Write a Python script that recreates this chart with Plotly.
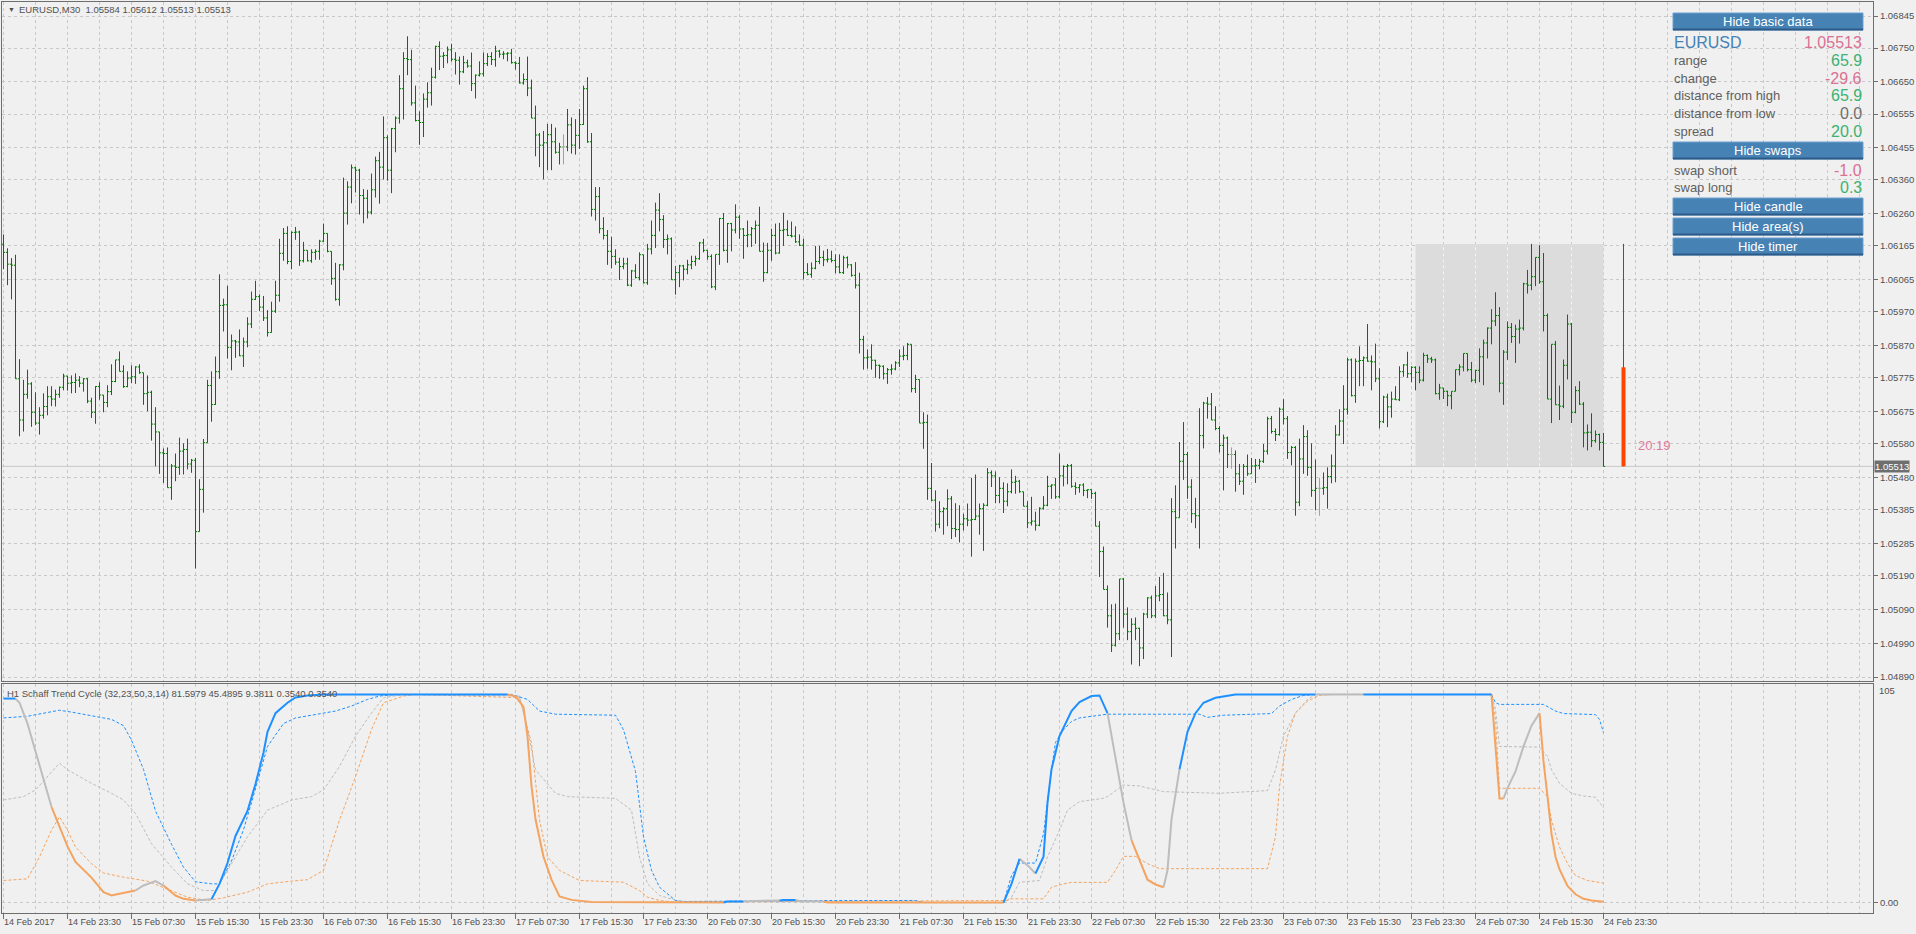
import plotly.graph_objects as go

# ---------------- data ----------------
# EURUSD M30 bars, prices in points (1e-5). open of each bar = previous close
first_open = 106170
bar_close = [
    106146, 106111, 106108, 105772, 105650, 105726, 105757, 105673, 105641, 105664, 105690, 105719, 105712, 105726, 105747, 105780, 105759, 105761, 105768, 105759,
    105772, 105706, 105673, 105749, 105724, 105702, 105734, 105764, 105828, 105794, 105749, 105774, 105778, 105807, 105790, 105728, 105732, 105638, 105615, 105553,
    105551, 105450, 105514, 105510, 105558, 105563, 105520, 105531, 105320, 105445, 105583, 105752, 105696, 105793, 105989, 105991, 105865, 105884, 105881, 105840,
    105881, 105934, 106007, 106015, 105984, 105952, 105909, 105972, 106019, 106143, 106202, 106119, 106205, 106206, 106121, 106152, 106121, 106146, 106149, 106179,
    106202, 106149, 106069, 106007, 106109, 106262, 106339, 106396, 106389, 106314, 106306, 106265, 106331, 106417, 106398, 106485, 106389, 106512, 106543, 106630,
    106719, 106716, 106588, 106536, 106530, 106599, 106618, 106664, 106755, 106726, 106728, 106745, 106717, 106714, 106680, 106707, 106697, 106645, 106670, 106674,
    106704, 106725, 106716, 106741, 106732, 106733, 106735, 106707, 106705, 106647, 106657, 106632, 106543, 106493, 106463, 106470, 106494, 106473, 106442, 106458,
    106458, 106523, 106463, 106492, 106524, 106630, 106473, 106273, 106311, 106216, 106196, 106149, 106134, 106117, 106104, 106112, 106049, 106091, 106071, 106139,
    106056, 106156, 106196, 106271, 106243, 106184, 106186, 106065, 106086, 106106, 106096, 106109, 106119, 106127, 106174, 106152, 106134, 106044, 106140, 106246,
    106152, 106231, 106212, 106250, 106215, 106196, 106198, 106216, 106226, 106149, 106086, 106152, 106196, 106144, 106211, 106213, 106196, 106194, 106177, 106167,
    106086, 106081, 106099, 106119, 106131, 106124, 106126, 106122, 106103, 106086, 106130, 106109, 106078, 106049, 105888, 105834, 105836, 105827, 105812, 105809,
    105787, 105799, 105801, 105819, 105839, 105841, 105874, 105743, 105770, 105641, 105643, 105448, 105413, 105342, 105379, 105388, 105417, 105329, 105326, 105342,
    105358, 105354, 105356, 105366, 105388, 105398, 105494, 105485, 105427, 105448, 105410, 105438, 105466, 105469, 105438, 105395, 105346, 105351, 105339, 105389,
    105398, 105454, 105458, 105423, 105485, 105513, 105515, 105454, 105450, 105458, 105442, 105444, 105433, 105336, 105261, 105149, 105071, 104984, 105018, 105180,
    105076, 105024, 105046, 105034, 104976, 105076, 105124, 105071, 105130, 105134, 105071, 105059, 105379, 105361, 105528, 105548, 105452, 105373, 105367, 105604,
    105700, 105697, 105650, 105625, 105575, 105597, 105548, 105548, 105491, 105469, 105513, 105491, 105514, 105516, 105528, 105558, 105654, 105616, 105607, 105682,
    105654, 105554, 105569, 105407, 105535, 105601, 105510, 105442, 105448, 105448, 105450, 105483, 105514, 105606, 105647, 105682, 105828, 105722, 105824, 105826,
    105834, 105824, 105822, 105772, 105645, 105718, 105689, 105712, 105710, 105793, 105813, 105787, 105806, 105791, 105768, 105841, 105831, 105828, 105728, 105745,
    105735, 105722, 105735, 105799, 105807, 105847, 105799, 105768, 105797, 105837, 105878, 105922, 105943, 105959, 105759, 105851, 105924, 105897, 105919, 105922,
    106053, 106049, 106074, 106131, 106059, 105959, 105712, 105874, 105695, 105691, 105812, 105934, 105673, 105737, 105697, 105612, 105614, 105589, 105607, 105584,
    105513,
]
bar_high = [
    106199, 106158, 106129, 106139, 105830, 105769, 105799, 105762, 105732, 105688, 105729, 105750, 105750, 105740, 105749, 105787, 105780, 105782, 105788, 105780,
    105774, 105774, 105716, 105750, 105762, 105724, 105753, 105815, 105828, 105853, 105812, 105794, 105812, 105809, 105815, 105790, 105782, 105737, 105688, 105615,
    105566, 105569, 105520, 105551, 105598, 105581, 105595, 105535, 105538, 105475, 105594, 105769, 105794, 105838, 106081, 106009, 106047, 105903, 105887, 105918,
    105894, 105954, 106030, 106062, 106022, 106017, 105975, 106000, 106062, 106186, 106218, 106223, 106208, 106221, 106210, 106177, 106152, 106155, 106155, 106183,
    106231, 106202, 106149, 106115, 106111, 106367, 106356, 106406, 106399, 106393, 106333, 106331, 106379, 106429, 106443, 106548, 106492, 106514, 106548, 106670,
    106738, 106785, 106745, 106639, 106563, 106616, 106649, 106692, 106757, 106770, 106738, 106755, 106763, 106738, 106725, 106727, 106716, 106737, 106672, 106711,
    106737, 106735, 106738, 106757, 106745, 106741, 106738, 106748, 106711, 106724, 106675, 106725, 106657, 106580, 106499, 106505, 106526, 106526, 106515, 106470,
    106495, 106570, 106545, 106540, 106570, 106639, 106664, 106499, 106339, 106339, 106250, 106212, 106192, 106155, 106130, 106130, 106130, 106094, 106111, 106146,
    106139, 106171, 106240, 106293, 106321, 106256, 106199, 106190, 106106, 106109, 106109, 106124, 106136, 106136, 106177, 106186, 106152, 106140, 106140, 106248,
    106262, 106233, 106233, 106288, 106256, 106218, 106240, 106221, 106240, 106281, 106175, 106174, 106216, 106231, 106233, 106263, 106241, 106237, 106223, 106199,
    106186, 106114, 106116, 106165, 106165, 106151, 106156, 106151, 106140, 106140, 106136, 106134, 106111, 106117, 106086, 105899, 105859, 105874, 105828, 105814,
    105812, 105804, 105815, 105824, 105859, 105868, 105878, 105874, 105784, 105770, 105673, 105666, 105523, 105442, 105410, 105392, 105445, 105425, 105404, 105398,
    105373, 105403, 105479, 105489, 105403, 105404, 105508, 105501, 105498, 105481, 105466, 105463, 105504, 105485, 105473, 105438, 105410, 105423, 105379, 105392,
    105425, 105485, 105460, 105479, 105551, 105516, 105520, 105520, 105466, 105460, 105463, 105445, 105445, 105438, 105351, 105276, 105161, 105105, 105107, 105180,
    105183, 105096, 105064, 105066, 105036, 105080, 105126, 105131, 105159, 105186, 105198, 105140, 105419, 105457, 105585, 105644, 105556, 105475, 105420, 105685,
    105704, 105718, 105730, 105691, 105632, 105607, 105601, 105569, 105560, 105520, 105520, 105548, 105538, 105535, 105535, 105579, 105660, 105662, 105625, 105687,
    105712, 105662, 105573, 105573, 105595, 105635, 105620, 105581, 105533, 105479, 105495, 105510, 105548, 105635, 105682, 105753, 105834, 105832, 105832, 105868,
    105838, 105934, 105841, 105876, 105803, 105722, 105728, 105734, 105750, 105809, 105815, 105852, 105809, 105809, 105809, 105849, 105844, 105837, 105832, 105757,
    105745, 105737, 105735, 105799, 105815, 105847, 105847, 105822, 105799, 105862, 105888, 105924, 105978, 106028, 105984, 105857, 105942, 105937, 105932, 105947,
    106056, 106094, 106171, 106131, 106167, 106144, 105965, 105874, 105884, 105752, 105829, 105962, 105937, 105750, 105765, 105703, 105637, 105670, 105619, 105610,
    105612,
]
bar_low = [
    106096, 106049, 106007, 105772, 105602, 105616, 105713, 105630, 105635, 105607, 105654, 105664, 105691, 105690, 105716, 105738, 105737, 105729, 105730, 105747,
    105734, 105700, 105656, 105639, 105710, 105673, 105688, 105724, 105762, 105794, 105745, 105747, 105759, 105757, 105787, 105695, 105676, 105589, 105513, 105491,
    105464, 105450, 105414, 105469, 105488, 105489, 105504, 105494, 105211, 105320, 105376, 105583, 105645, 105695, 105772, 105912, 105832, 105797, 105834, 105839,
    105807, 105865, 105922, 106005, 105972, 105943, 105897, 105909, 105967, 106000, 106121, 106111, 106096, 106183, 106106, 106116, 106119, 106115, 106124, 106124,
    106177, 106146, 106050, 106003, 105988, 106093, 106228, 106291, 106323, 106258, 106232, 106246, 106258, 106308, 106290, 106361, 106358, 106321, 106442, 106527,
    106539, 106670, 106580, 106533, 106464, 106487, 106574, 106580, 106660, 106685, 106691, 106705, 106710, 106672, 106642, 106676, 106692, 106623, 106601, 106666,
    106666, 106697, 106700, 106695, 106722, 106717, 106711, 106704, 106686, 106645, 106642, 106608, 106543, 106430, 106398, 106362, 106389, 106389, 106438, 106406,
    106406, 106445, 106438, 106435, 106452, 106523, 106470, 106252, 106240, 106202, 106184, 106109, 106099, 106109, 106064, 106096, 106046, 106044, 106069, 106063,
    106054, 106050, 106140, 106159, 106208, 106159, 106140, 106065, 106021, 106043, 106063, 106081, 106096, 106106, 106124, 106146, 106124, 106040, 106034, 106109,
    106149, 106115, 106149, 106202, 106186, 106127, 106161, 106162, 106171, 106149, 106059, 106084, 106121, 106140, 106142, 106165, 106194, 106190, 106174, 106165,
    106066, 106078, 106071, 106096, 106111, 106105, 106116, 106116, 106084, 106084, 106082, 106099, 106074, 106039, 105847, 105799, 105802, 105799, 105775, 105772,
    105770, 105757, 105784, 105797, 105807, 105827, 105827, 105732, 105730, 105641, 105565, 105414, 105410, 105320, 105330, 105311, 105336, 105298, 105304, 105288,
    105323, 105336, 105246, 105354, 105311, 105263, 105395, 105452, 105404, 105404, 105375, 105395, 105433, 105432, 105435, 105395, 105330, 105338, 105323, 105336,
    105385, 105395, 105417, 105417, 105418, 105454, 105460, 105450, 105429, 105435, 105425, 105419, 105417, 105336, 105186, 105149, 105036, 104964, 104980, 104999,
    105036, 104999, 104927, 104999, 104922, 104943, 105064, 105064, 105064, 105114, 105070, 105046, 104949, 105270, 105361, 105473, 105417, 105346, 105330, 105270,
    105566, 105654, 105650, 105620, 105554, 105442, 105508, 105506, 105438, 105458, 105429, 105485, 105491, 105464, 105504, 105523, 105548, 105610, 105588, 105604,
    105637, 105535, 105516, 105367, 105395, 105491, 105485, 105423, 105383, 105367, 105429, 105388, 105463, 105466, 105604, 105579, 105666, 105720, 105701, 105750,
    105750, 105822, 105738, 105762, 105625, 105641, 105629, 105657, 105710, 105706, 105778, 105775, 105762, 105738, 105759, 105764, 105819, 105819, 105726, 105710,
    105712, 105691, 105682, 105735, 105782, 105794, 105794, 105762, 105759, 105762, 105753, 105832, 105874, 105928, 105732, 105695, 105828, 105878, 105819, 105876,
    105915, 106024, 106034, 106046, 106053, 105912, 105712, 105641, 105695, 105650, 105685, 105770, 105641, 105670, 105695, 105569, 105560, 105570, 105583, 105560,
    105513,
]
day_start_bar = 353  # 24 Feb 00:00

date_labels = [
    "14 Feb 2017", "14 Feb 23:30", "15 Feb 07:30", "15 Feb 15:30", "15 Feb 23:30", "16 Feb 07:30",
    "16 Feb 15:30", "16 Feb 23:30", "17 Feb 07:30", "17 Feb 15:30", "17 Feb 23:30", "20 Feb 07:30",
    "20 Feb 15:30", "20 Feb 23:30", "21 Feb 07:30", "21 Feb 15:30", "21 Feb 23:30", "22 Feb 07:30",
    "22 Feb 15:30", "22 Feb 23:30", "23 Feb 07:30", "23 Feb 15:30", "23 Feb 23:30", "24 Feb 07:30",
    "24 Feb 15:30", "24 Feb 23:30",
]
price_levels = [1.06845, 1.06750, 1.06650, 1.06555, 1.06455, 1.06360, 1.06260, 1.06165, 1.06065, 1.05970,
                1.05870, 1.05775, 1.05675, 1.05580, 1.05480, 1.05385, 1.05285, 1.05190, 1.05090, 1.04990, 1.04890]

# Schaff Trend Cycle (H1), main line: b = rising, o = falling, g = neutral
stc_bar = [0, 3, 4, 6, 8, 10, 12, 14, 16, 18, 22, 25, 27, 29, 33, 35, 38, 40, 43, 45, 48, 51, 52, 54, 56, 58,
           61, 63, 65, 66, 68, 71, 73, 76, 80, 126, 128, 130, 131, 132, 133, 135, 137, 139, 142, 147, 180, 181,
           185, 188, 194, 195, 198, 199, 205, 206, 250, 252, 254, 256, 258, 260, 261, 262, 263, 264, 265, 266,
           267, 269, 271, 272, 274, 276, 277, 279, 280, 282, 284, 286, 288, 290, 291, 292, 294, 296, 298, 300,
           303, 308, 328, 340, 372, 373, 374, 375, 376, 378, 380, 382, 384, 385, 386, 387, 388, 389, 391, 393,
           395, 397, 400]
stc_val = [98, 98, 96, 86, 73, 59, 46, 36, 27, 19.5, 12, 5, 3.4, 4.2, 5.8, 8.2, 10.3, 8.2, 3.4, 1.8, 1, 1.2, 1.6,
           9, 19, 32, 44, 57, 72, 82, 91, 96, 98.5, 99.5, 100, 100, 99, 94, 80, 56, 40, 22, 11, 3, 1.3, 0.3, 0,
           0.5, 0.5, 0.8, 1, 1.2, 1.2, 0.8, 0.5, 0, 0, 9, 21, 18, 14, 22, 48, 64, 72, 80, 84, 88, 92, 96.3, 98.4,
           99.2, 99.5, 91, 80, 59, 48, 30, 20, 11, 8.7, 7.4, 15.5, 40, 64, 82, 91, 96, 98.4, 100, 100, 100, 100,
           73, 50, 50, 55, 63, 75, 85, 91, 68, 51, 33, 22, 16, 8, 4, 1.8, 1, 0.35]
stc_state = ("bb" "ggggg" "oooooooo" "ggg" "ooo" "gg" "bbbbbbbbbbbbb" "ooooooooooo" "bb" "gg" "bb" "gg" "oo"
             "bb" "gg" "bbbbbbbbbbbbb" "gggg" "oooo" "ggg" "bbbbbb" "g" "b" "ooo" "ggggg" "oooooooooo")

# dotted signal lines
hi_bar = [0, 6, 14, 17, 27, 30, 32, 35, 38, 42, 45, 48, 52, 54, 57, 60, 62, 64, 66, 70, 73, 77, 83, 87, 91, 94,
          98, 127, 131, 134, 138, 153, 155, 158, 160, 162, 164, 168, 170, 205, 228, 230, 250, 252, 254, 258, 260,
          262, 263, 265, 267, 269, 272, 276, 299, 301, 305, 317, 319, 322, 325, 328, 372, 373, 374, 385, 388, 390,
          398, 399, 400]
hi_val = [88.7, 89.5, 92.4, 91.5, 88, 85, 78, 64, 44, 28, 17, 10, 9, 9, 20, 35, 48, 62, 75, 86, 88.7, 90, 92, 94.4,
          97.6, 99.2, 100, 100, 97.6, 92, 90.5, 90, 83, 63, 31.6, 15.5, 7.4, 1, 0.5, 1, 1, 0, 0, 13, 19, 19, 33, 64,
          77, 83, 87, 88.7, 89.5, 90.5, 90.5, 89, 90, 90.8, 94.4, 97.6, 99.5, 100, 100, 96, 95.2, 95.2, 92, 90.8,
          90.3, 88, 81.6]
mid_bar = [0, 5, 8, 14, 16, 22, 27, 30, 33, 37, 42, 46, 50, 53, 55, 61, 66, 72, 77, 80, 84, 88, 92, 95, 100, 129,
           131, 133, 138, 141, 153, 157, 159, 161, 164, 169, 250, 252, 254, 259, 261, 264, 266, 269, 275, 276, 280,
           284, 290, 304, 316, 318, 320, 323, 326, 328, 372, 373, 374, 384, 386, 387, 389, 392, 395, 398, 400]
mid_val = [49.3, 50.9, 54.1, 67, 63.8, 57.3, 52.5, 49.3, 42.8, 28.3, 17.1, 9, 5.8, 5.8, 12.2, 31.6, 44.4, 49.3,
           50.9, 54.1, 65.4, 79.9, 91.1, 98.4, 100, 99.2, 83.1, 63.8, 52.5, 50.9, 50.1, 44.4, 21.9, 9, 3.4, 0.6, 0,
           2.6, 9.8, 10.6, 21.9, 34.8, 44.4, 48.5, 50.1, 50.9, 56.5, 56, 53.3, 52.5, 53.8, 63.8, 79.9, 91.1, 97.6,
           100, 100, 92.8, 75, 74.7, 70.2, 63.8, 57.3, 52.5, 51.2, 50.6, 45.5]
lo_bar = [0, 6, 9, 12, 14, 16, 18, 22, 25, 30, 36, 42, 46, 51, 55, 61, 66, 72, 76, 80, 84, 88, 92, 95, 100, 103,
          129, 132, 134, 136, 139, 144, 155, 159, 161, 164, 168, 251, 252, 260, 262, 265, 267, 276, 278, 280, 283,
          286, 289, 316, 318, 319, 321, 323, 326, 329, 333, 372, 373, 374, 384, 386, 387, 389, 391, 393, 396, 400]
lo_val = [10.6, 11.4, 21.9, 34.8, 41.2, 34.8, 26.7, 18.7, 14.2, 12.2, 10.3, 5.8, 2.6, 1, 2.3, 5, 9, 10.3, 11, 15.5,
          39.6, 60.5, 83.1, 96, 99.2, 100, 98.4, 76.7, 39.6, 21.9, 15.5, 10.6, 9.8, 5.8, 2.6, 1, 0.2, 1, 1.8, 1.8,
          7.4, 9, 9.7, 9.7, 15.5, 22.2, 22.2, 18.7, 16.3, 16.3, 31.6, 55.7, 79.9, 91.1, 96.8, 99.5, 100, 100, 88,
          54.9, 54.9, 50.9, 39.6, 26.7, 18.7, 13, 10.6, 9.4]

info_labels = ["range", "change", "distance from high", "distance from low", "spread"]
info_values = ["65.9", "-29.6", "65.9", "0.0", "20.0"]
swap_labels = ["swap short", "swap long"]
swap_values = ["-1.0", "0.3"]
button_labels = ["Hide basic data", "Hide swaps", "Hide candle", "Hide area(s)", "Hide timer"]
timer_text = "20:19"
stc_title = "H1 Schaff Trend Cycle (32,23,50,3,14) 81.5979 45.4895 9.3811 0.3540 0.3540"

# ---------------- styling ----------------
W, H = 1916, 934
ML, MR, MT, MB = 2, 43, 2, 21
PW, PH = W - ML - MR, H - MT - MB
BG = "#F0F0F0"
FRAME = "#6E6E6E"
GRID = "#C8C8C8"
TXT = "#505050"
FONT = "Liberation Sans"
BAR = "#007800"
BLUE, ORANGE, SILVER = "#1E90FF", "#F4A460", "#BDBDBD"
PINK, GREEN, STEEL = "#DB7093", "#3CB371", "#4682B4"


def fx(px):
    return (px - ML) / PW


def fy(py):
    return (H - MB - py) / PH


# half-pixel offset so 1px bars land on pixel centres
x_lo, x_hi = -0.375, 467.375
main_lo, main_hi = 1.048782, 1.068864

n = len(bar_close)
idx = list(range(n))
close = [v / 1e5 for v in bar_close]
high = [v / 1e5 for v in bar_high]
low = [v / 1e5 for v in bar_low]
opn = [first_open / 1e5] + close[:-1]
last = close[-1]

fig = go.Figure()

# day range box (area)
day_hi = max(high[day_start_bar:])
day_lo = min(low[day_start_bar:])
day_open = opn[day_start_bar]

# price bars
normal = [i for i in idx if abs(opn[i] - close[i]) > 1e-9]
doji = [i for i in idx if abs(opn[i] - close[i]) <= 1e-9]
for sel, col in ((normal, BAR), (doji, "#A0A0A0")):
    fig.add_trace(go.Ohlc(
        x=sel, open=[opn[i] for i in sel], high=[high[i] for i in sel],
        low=[low[i] for i in sel], close=[close[i] for i in sel],
        increasing=dict(line=dict(color=col, width=1)),
        decreasing=dict(line=dict(color=col, width=1)),
        tickwidth=0.4, hoverinfo="skip", showlegend=False, xaxis="x", yaxis="y"))

# daily candle drawn to the right of the last bar
cx = n - 1 + 5
fig.add_trace(go.Scatter(x=[cx, cx], y=[day_lo, day_hi], mode="lines",
                         line=dict(color="#DC143C", width=1), hoverinfo="skip", showlegend=False))
fig.add_trace(go.Scatter(x=[cx, cx], y=[day_open, last], mode="lines",
                         line=dict(color="#FF4500", width=4), hoverinfo="skip", showlegend=False))

# STC dotted lines
for bx, by, col in ((lo_bar, lo_val, ORANGE), (mid_bar, mid_val, SILVER), (hi_bar, hi_val, BLUE)):
    fig.add_trace(go.Scatter(x=bx, y=by, mode="lines", line=dict(color=col, width=1, dash="3px,2px"),
                             hoverinfo="skip", showlegend=False, xaxis="x2", yaxis="y2"))

# STC main line, coloured by state
for code, col in (("g", SILVER), ("o", ORANGE), ("b", BLUE)):
    xs, ys = [], []
    for i in range(1, len(stc_bar)):
        if stc_state[i] != code:
            continue
        if stc_state[i - 1] != code or i == 1:
            if xs:
                xs.append(None)
                ys.append(None)
            xs.append(stc_bar[i - 1])
            ys.append(stc_val[i - 1])
        xs.append(stc_bar[i])
        ys.append(stc_val[i])
    fig.add_trace(go.Scatter(x=xs, y=ys, mode="lines", line=dict(color=col, width=2),
                             connectgaps=False, hoverinfo="skip", showlegend=False,
                             xaxis="x2", yaxis="y2"))

# helper trace so the label axis renders
fig.add_trace(go.Scatter(x=[0], y=[0], mode="markers", marker=dict(opacity=0), hoverinfo="skip",
                         showlegend=False, xaxis="x3", yaxis="y2"))

grid_x = dict(range=[x_lo, x_hi], tickmode="linear", tick0=0, dtick=8, showticklabels=False, ticks="",
              showgrid=True, gridcolor=GRID, griddash="3px,3px", gridwidth=1, zeroline=False,
              showline=True, linecolor=FRAME, mirror=True)

main_dom = [fy(681), 1]
sub_dom = [0, fy(684)]

fig.update_layout(
    width=W, height=H, margin=dict(l=ML, r=MR, t=MT, b=MB),
    paper_bgcolor=BG, plot_bgcolor=BG, showlegend=False,
    font=dict(family=FONT, size=9, color=TXT),
    xaxis=dict(domain=[0, 1], anchor="y", rangeslider=dict(visible=False), **grid_x),
    yaxis=dict(domain=main_dom, anchor="x", side="right", range=[main_lo, main_hi],
               tickmode="array", tickvals=price_levels, ticktext=[f"{v:.5f}" for v in price_levels],
               ticks="outside", ticklen=4, tickcolor=FRAME, tickfont=dict(size=9.5, color=TXT),
               showgrid=True, gridcolor=GRID, griddash="3px,3px", zeroline=False,
               showline=True, linecolor=FRAME, mirror=True),
    xaxis2=dict(domain=[0, 1], anchor="y2", **grid_x),
    xaxis3=dict(overlaying="x2", anchor="y2", side="bottom", range=[x_lo, x_hi], tickmode="array",
                tickvals=list(range(0, 16 * len(date_labels), 16)), ticktext=date_labels,
                ticks="outside", ticklen=5, tickcolor=FRAME, ticklabelposition="outside right",
                tickfont=dict(size=9, color=TXT), showgrid=False, zeroline=False, showline=False),
    yaxis2=dict(domain=sub_dom, anchor="x2", side="right", range=[-5, 105], tickmode="array",
                tickvals=[0], ticktext=["0.00"], ticks="outside", ticklen=4, tickcolor=FRAME,
                tickfont=dict(size=9.5, color=TXT), showgrid=True, gridcolor=GRID, griddash="3px,3px",
                zeroline=False, showline=True, linecolor=FRAME, mirror=True),
)

shapes = []
shapes.append(dict(type="rect", xref="x", yref="y", x0=day_start_bar, x1=n - 1, y0=day_lo, y1=day_hi,
                   fillcolor="#DCDCDC", line=dict(width=0), layer="between"))
for gx in range(0, n, 8):
    if day_start_bar < gx < n - 1:
        shapes.append(dict(type="line", xref="x", yref="y", x0=gx, x1=gx, y0=day_lo, y1=day_hi,
                           line=dict(color="#F4F4F4", width=1, dash="3px,3px"), layer="between"))
shapes.append(dict(type="line", xref="paper", yref="y", x0=0, x1=1, y0=last, y1=last,
                   line=dict(color=GRID, width=1), layer="between"))

annotations = []
# current price tag on the axis
annotations.append(dict(xref="paper", yref="y", x=1, y=last, xanchor="left", yanchor="middle", xshift=1,
                        text=f"{last:.5f}", showarrow=False, bgcolor="#6E6E6E",
                        font=dict(size=9.5, color="white"), borderpad=0))
# timer
annotations.append(dict(xref="x", yref="paper", x=cx + 3, y=fy(445), xanchor="left", yanchor="middle",
                        text=timer_text, showarrow=False, font=dict(size=13, color="#E07A9B")))
# window titles
annotations.append(dict(xref="paper", yref="paper", x=fx(6), y=fy(10), xanchor="left", yanchor="middle",
                        text="▼", showarrow=False, font=dict(size=7, color=TXT)))
annotations.append(dict(xref="paper", yref="paper", x=fx(17), y=fy(10), xanchor="left", yanchor="middle",
                        text=f"EURUSD,M30  {opn[-1]:.5f} {high[-1]:.5f} {low[-1]:.5f} {close[-1]:.5f}",
                        showarrow=False, font=dict(size=9.5, color=TXT)))
annotations.append(dict(xref="paper", yref="paper", x=fx(5), y=fy(693), xanchor="left", yanchor="middle",
                        text=stc_title, showarrow=False, font=dict(size=9.5, color=TXT)))
annotations.append(dict(xref="paper", yref="paper", x=1, y=fy(690), xanchor="left", yanchor="middle",
                        xshift=4, text="105", showarrow=False, font=dict(size=9.5, color=TXT)))

# info panel
bx0, bx1 = 1673, 1863
button_rows = [(13, 30), (142, 159), (198, 215), (218, 235), (238, 255)]
for label, (y0, y1) in zip(button_labels, button_rows):
    shapes.append(dict(type="rect", xref="paper", yref="paper", x0=fx(bx0), x1=fx(bx1), y0=fy(y1), y1=fy(y0),
                       fillcolor=STEEL, line=dict(color="#6FA0D2", width=1), layer="above"))
    shapes.append(dict(type="line", xref="paper", yref="paper", x0=fx(bx0), x1=fx(bx1), y0=fy(y1 - 0.5),
                       y1=fy(y1 - 0.5), line=dict(color="#2C5B88", width=2), layer="above"))
    annotations.append(dict(xref="paper", yref="paper", x=fx((bx0 + bx1) / 2), y=fy((y0 + y1) / 2),
                            xanchor="center", yanchor="middle", text=label, showarrow=False,
                            font=dict(size=13, color="white")))

annotations.append(dict(xref="paper", yref="paper", x=fx(bx0 - 1), y=fy(42), xanchor="left", yanchor="middle",
                        text="EURUSD", showarrow=False, font=dict(size=16, color=STEEL)))
annotations.append(dict(xref="paper", yref="paper", x=fx(bx1 + 1), y=fy(42), xanchor="right", yanchor="middle",
                        text=f"{last:.5f}", showarrow=False, font=dict(size=16, color=PINK)))
value_colors = [GREEN, PINK, GREEN, "#6E6E6E", GREEN]
for k, (lab, val) in enumerate(zip(info_labels, info_values)):
    yy = 60 + 18 * k
    annotations.append(dict(xref="paper", yref="paper", x=fx(bx0 - 1), y=fy(yy), xanchor="left",
                            yanchor="middle", text=lab, showarrow=False, font=dict(size=13, color="#606060")))
    annotations.append(dict(xref="paper", yref="paper", x=fx(bx1 + 1), y=fy(yy), xanchor="right",
                            yanchor="middle", text=val, showarrow=False,
                            font=dict(size=16, color=value_colors[k])))
for k, (lab, val) in enumerate(zip(swap_labels, swap_values)):
    yy = 170 + 18 * k
    annotations.append(dict(xref="paper", yref="paper", x=fx(bx0 - 1), y=fy(yy), xanchor="left",
                            yanchor="middle", text=lab, showarrow=False, font=dict(size=13, color="#606060")))
    annotations.append(dict(xref="paper", yref="paper", x=fx(bx1 + 1), y=fy(yy), xanchor="right",
                            yanchor="middle", text=val, showarrow=False,
                            font=dict(size=16, color=[PINK, GREEN][k])))

fig.update_layout(shapes=shapes, annotations=annotations)

fig.write_html("out.html", config={"displayModeBar": False},
               post_script="document.body.style.margin='0';document.body.style.background='#F0F0F0';")
